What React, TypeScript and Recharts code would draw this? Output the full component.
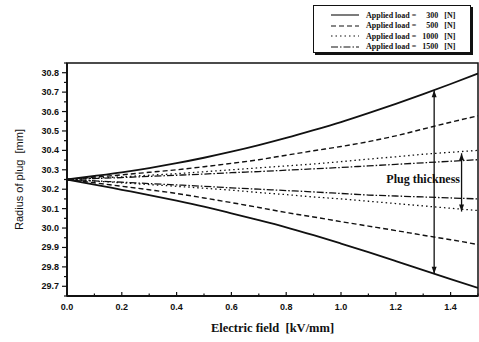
import React from "react"
import { LineChart, Line, XAxis, YAxis, ReferenceArea, ReferenceLine, ReferenceDot } from "recharts"

// electric field (kV/mm)
const efield = [0, 0.1, 0.2, 0.3, 0.4, 0.5, 0.6, 0.7, 0.8, 0.9, 1.0, 1.1, 1.2, 1.3, 1.4, 1.5]

// plug radius (mm), upper / lower boundary for each applied load
const upper300 = [30.25, 30.268, 30.287, 30.309, 30.334, 30.362, 30.393, 30.427, 30.464, 30.504, 30.546, 30.592, 30.64, 30.69, 30.742, 30.796]
const lower300 = [30.25, 30.224, 30.197, 30.17, 30.141, 30.11, 30.076, 30.041, 30.004, 29.963, 29.92, 29.876, 29.83, 29.783, 29.737, 29.692]
const upper500 = [30.25, 30.262, 30.274, 30.287, 30.3, 30.316, 30.333, 30.352, 30.375, 30.398, 30.42, 30.445, 30.475, 30.51, 30.545, 30.578]
const lower500 = [30.25, 30.233, 30.215, 30.197, 30.178, 30.155, 30.131, 30.106, 30.08, 30.057, 30.033, 30.01, 29.987, 29.963, 29.94, 29.915]
const upper1000 = [30.25, 30.257, 30.264, 30.272, 30.28, 30.29, 30.3, 30.31, 30.32, 30.33, 30.342, 30.355, 30.367, 30.38, 30.39, 30.4]
const lower1000 = [30.25, 30.242, 30.233, 30.224, 30.215, 30.205, 30.195, 30.183, 30.172, 30.16, 30.15, 30.138, 30.126, 30.114, 30.102, 30.09]
const upper1500 = [30.25, 30.255, 30.26, 30.266, 30.272, 30.278, 30.285, 30.291, 30.298, 30.305, 30.312, 30.32, 30.328, 30.336, 30.344, 30.352]
const lower1500 = [30.25, 30.243, 30.236, 30.229, 30.222, 30.215, 30.207, 30.2, 30.193, 30.186, 30.178, 30.17, 30.165, 30.16, 30.155, 30.15]

const xTicks = [0, 0.1, 0.2, 0.3, 0.4, 0.5, 0.6, 0.7, 0.8, 0.9, 1.0, 1.1, 1.2, 1.3, 1.4, 1.5]
const yTicks = [
  29.65, 29.7, 29.75, 29.8, 29.85, 29.9, 29.95, 30.0, 30.05, 30.1, 30.15, 30.2, 30.25,
  30.3, 30.35, 30.4, 30.45, 30.5, 30.55, 30.6, 30.65, 30.7, 30.75, 30.8, 30.85,
]

// arrows drawn on the plot (data coords)
const bigArrow = { x: 1.34, top: 30.71, bottom: 29.765 }
const smallArrow = { x: 1.44, top: 30.385, bottom: 30.085 }

const series = [
  { load: "300", upper: "u300", lower: "l300", dash: undefined, width: 1.8 },
  { load: "500", upper: "u500", lower: "l500", dash: "5 3", width: 1.4 },
  { load: "1000", upper: "u1000", lower: "l1000", dash: "1.5 3", width: 1.3 },
  { load: "1500", upper: "u1500", lower: "l1500", dash: "7 2 1.5 2", width: 1.3 },
]

const data = efield.map((e, i) => ({
  e,
  u300: upper300[i],
  l300: lower300[i],
  u500: upper500[i],
  l500: lower500[i],
  u1000: upper1000[i],
  l1000: lower1000[i],
  u1500: upper1500[i],
  l1500: lower1500[i],
}))

const INK = "#111"
const TICK_FONT = "'Liberation Sans', Arial, sans-serif"
const SERIF = "'Liberation Serif', 'Times New Roman', serif"

const XTick = (props: any) => {
  const { x, y, payload } = props
  const v = payload.value
  const major = Math.round(v * 10) % 2 === 0
  const axisY = y - 8
  return (
    <g>
      <line x1={x} x2={x} y1={axisY} y2={axisY - (major ? 4 : 2.5)} stroke={INK} strokeWidth={1.2} />
      {major && v < 1.45 && (
        <text x={x} y={axisY + 14} textAnchor="middle" fontSize={9} fontWeight="bold" fontFamily={TICK_FONT} fill={INK}>
          {v.toFixed(1)}
        </text>
      )}
    </g>
  )
}

const YTick = (props: any) => {
  const { x, y, payload } = props
  const v = payload.value
  const major = Math.round(v * 100) % 10 === 0
  const axisX = x + 8
  return (
    <g>
      <line x1={axisX} x2={axisX - (major ? 5 : 3)} y1={y} y2={y} stroke={INK} strokeWidth={1.2} />
      {major && (
        <text x={axisX - 8} y={y + 3} textAnchor="end" fontSize={9} fontWeight="bold" fontFamily={TICK_FONT} fill={INK}>
          {v.toFixed(1)}
        </text>
      )}
    </g>
  )
}

const ArrowLine = (props: any) => {
  const { x1, y1, x2, y2 } = props
  const top = Math.min(y1, y2)
  const bot = Math.max(y1, y2)
  return (
    <g>
      <line x1={x1} x2={x2} y1={top} y2={bot} stroke={INK} strokeWidth={1.3} />
      <polygon points={`${x1},${top} ${x1 - 2.5},${top + 7} ${x1 + 2.5},${top + 7}`} fill={INK} />
      <polygon points={`${x1},${bot} ${x1 - 2.5},${bot - 7} ${x1 + 2.5},${bot - 7}`} fill={INK} />
    </g>
  )
}

function LegendBox() {
  return (
    <div
      style={{
        position: "absolute",
        left: 313,
        top: 5,
        width: 158,
        height: 48,
        border: `1px solid ${INK}`,
        boxShadow: `2px 2px 0 ${INK}`,
        background: "#fff",
        fontFamily: SERIF,
        fontWeight: "bold",
        fontSize: 8,
        color: INK,
        paddingTop: 4,
        boxSizing: "border-box",
      }}
    >
      {series.map((s) => (
        <div key={s.load} style={{ display: "flex", alignItems: "center", height: 10.5 }}>
          <svg width={28} height={6} style={{ marginLeft: 17, marginRight: 7 }}>
            <line x1={0} x2={28} y1={3} y2={3} stroke={INK} strokeWidth={1.1} strokeDasharray={s.dash} />
          </svg>
          <span>Applied load =</span>
          <span style={{ display: "inline-block", width: 22, textAlign: "right" }}>{s.load}</span>
          <span style={{ marginLeft: 6 }}>[N]</span>
        </div>
      ))}
    </div>
  )
}

export default function App() {
  return (
    <div style={{ position: "fixed", left: 0, top: 0, width: 479, height: 342, background: "#fff" }}>
      <LineChart width={479} height={342} data={data} margin={{ top: 63, right: 1, bottom: 6, left: 0 }}>
        <XAxis
          type="number"
          dataKey="e"
          domain={[0, 1.5]}
          ticks={xTicks}
          interval={0}
          height={40}
          tickSize={5}
          tickMargin={3}
          tickLine={false}
          tick={<XTick />}
          axisLine={{ stroke: INK, strokeWidth: 1.8 }}
          allowDataOverflow
          label={{
            value: "Electric field\u00a0\u00a0[kV/mm]",
            position: "insideBottom",
            offset: 4,
            fontFamily: SERIF,
            fontWeight: "bold",
            fontSize: 12.5,
            fill: INK,
          }}
        />
        <YAxis
          type="number"
          domain={[29.65, 30.85]}
          ticks={yTicks}
          interval={0}
          width={67}
          tickSize={5}
          tickMargin={3}
          tickLine={false}
          tick={<YTick />}
          axisLine={{ stroke: INK, strokeWidth: 1.8 }}
          allowDataOverflow
          label={{
            content: ({ viewBox }: any) => {
              const cx = 19
              const cy = viewBox.y + viewBox.height / 2
              return (
                <text
                  x={cx}
                  y={cy}
                  transform={`rotate(-90, ${cx}, ${cy})`}
                  textAnchor="middle"
                  dominantBaseline="central"
                  fontFamily={TICK_FONT}
                  fontSize={11}
                  fill={INK}
                >
                  {"Radius of plug\u00a0\u00a0[mm]"}
                </text>
              )
            },
          }}
        />
        <ReferenceArea
          x1={0}
          x2={1.5}
          y1={29.65}
          y2={30.85}
          fill="none"
          stroke={INK}
          strokeWidth={1.5}
          ifOverflow="visible"
        />
        {series.map((s) => (
          <Line
            key={s.upper}
            dataKey={s.upper}
            type="monotone"
            stroke={INK}
            strokeWidth={s.width}
            strokeDasharray={s.dash}
            dot={false}
            isAnimationActive={false}
          />
        ))}
        {series.map((s) => (
          <Line
            key={s.lower}
            dataKey={s.lower}
            type="monotone"
            stroke={INK}
            strokeWidth={s.width}
            strokeDasharray={s.dash}
            dot={false}
            isAnimationActive={false}
          />
        ))}
        <ReferenceLine
          segment={[
            { x: bigArrow.x, y: bigArrow.top },
            { x: bigArrow.x, y: bigArrow.bottom },
          ]}
          shape={<ArrowLine />}
          ifOverflow="visible"
        />
        <ReferenceLine
          segment={[
            { x: smallArrow.x, y: smallArrow.top },
            { x: smallArrow.x, y: smallArrow.bottom },
          ]}
          shape={<ArrowLine />}
          ifOverflow="visible"
        />
        <ReferenceDot
          x={1.3}
          y={30.255}
          r={0}
          ifOverflow="visible"
          shape={(p: any) => (
            <text
              x={p.cx}
              y={p.cy}
              textAnchor="middle"
              dominantBaseline="central"
              fontFamily={SERIF}
              fontWeight="bold"
              fontSize={12}
              fill={INK}
            >
              Plug thickness
            </text>
          )}
        />
      </LineChart>
      <LegendBox />
    </div>
  )
}
